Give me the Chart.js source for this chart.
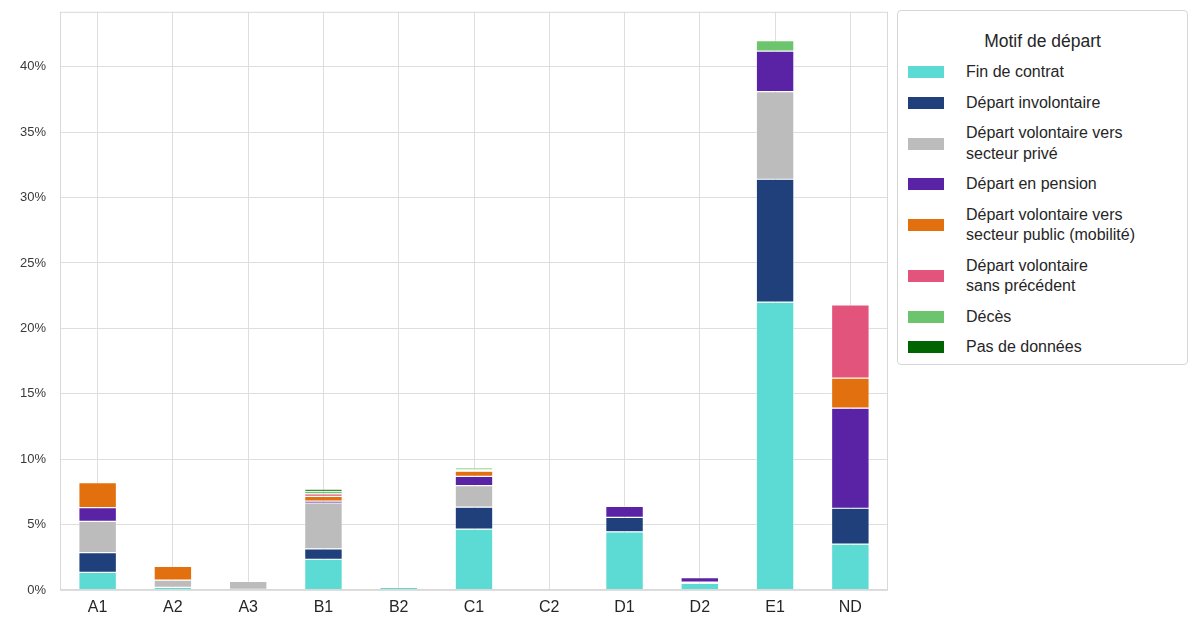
<!DOCTYPE html>
<html>
<head>
<meta charset="utf-8">
<script src="https://cdn.jsdelivr.net/npm/chart.js@4.4.1/dist/chart.umd.min.js"></script>
<style>
  body { margin:0; background:#fff; font-family:"Liberation Sans", Arial, sans-serif; overflow:hidden; }
  #wrap { position:absolute; left:0; top:-10px; width:890px; height:633px; }
  #legend { position:absolute; left:897px; top:10px; width:291px; height:355px; box-sizing:border-box;
            border:1px solid #d6d6d6; border-radius:4px; background:#fff; color:#262626; }
  #legend .title { text-align:center; font-size:17.5px; margin-top:20px; margin-bottom:10px; }
  #legend .item { display:flex; align-items:center; font-size:16px; line-height:20.5px; margin-bottom:10px; }
  #legend .sw { width:36px; height:12px; margin-left:10px; margin-right:22px; flex:none; }
</style>
</head>
<body>
<div id="wrap"><canvas id="c"></canvas></div>
<div id="legend"></div>
<script>
const categories = ['A1','A2','A3','B1','B2','C1','C2','D1','D2','E1','ND'];
const legendTitle = 'Motif de départ';
const seriesNames = [
  ['Fin de contrat'],
  ['Départ involontaire'],
  ['Départ volontaire vers', 'secteur privé'],
  ['Départ en pension'],
  ['Départ volontaire vers', 'secteur public (mobilité)'],
  ['Départ volontaire', 'sans précédent'],
  ['Décès'],
  ['Pas de données']
];
const seriesColors = ['#5cdbd5','#1f407a','#bcbcbc','#5a22a5','#e3700f','#e3547c','#6cc56c','#006400'];

// values in % per category
const finContrat   = [1.35, 0.2, 0.05, 2.35, 0.2, 4.65, 0, 4.45, 0.5, 22.0, 3.5];
const involontaire = [1.5, 0, 0, 0.8, 0, 1.68, 0, 1.1, 0.1, 9.4, 2.75];
const prive        = [2.4, 0.55, 0.6, 3.5, 0, 1.65, 0, 0, 0, 6.7, 0];
const pension      = [1.05, 0, 0, 0.15, 0, 0.7, 0, 0.85, 0.35, 3.1, 7.65];
const publicMob    = [1.9, 1.05, 0, 0.35, 0, 0.4, 0, 0, 0, 0, 2.3];
const sansPrec     = [0, 0, 0, 0.2, 0, 0.1, 0, 0, 0, 0, 5.6];
const deces        = [0, 0, 0, 0.2, 0, 0.15, 0, 0, 0, 0.8, 0];
const pasDonnees   = [0, 0, 0, 0.15, 0, 0, 0, 0, 0, 0, 0];
const seriesValues = [finContrat, involontaire, prive, pension, publicMob, sansPrec, deces, pasDonnees];

const yMax = 44.2;
const yStep = 5;

const datasets = seriesValues.map((vals, i) => ({
  label: seriesNames[i].join(' '),
  data: vals,
  backgroundColor: seriesColors[i],
  borderColor: '#ffffff',
  borderWidth: 0.6,
  borderSkipped: false,
  barPercentage: 0.5,
  categoryPercentage: 1.0
}));

// frame around plot area, like the grey spines
const frame = {
  id: 'frame',
  afterDraw(chart) {
    const a = chart.chartArea, ctx = chart.ctx;
    ctx.save();
    ctx.strokeStyle = '#d9d9d9';
    ctx.lineWidth = 1;
    ctx.strokeRect(a.left + 0.5, a.top + 0.5, a.right - a.left - 1, a.bottom - a.top - 1);
    ctx.restore();
  }
};

new Chart(document.getElementById('c'), {
  type: 'bar',
  data: { labels: categories, datasets: datasets },
  options: {
    responsive: true,
    maintainAspectRatio: false,
    animation: false,
    layout: { padding: { top: 2, right: 2, left: 0, bottom: 0 } },
    plugins: { legend: { display: false }, tooltip: { enabled: false } },
    scales: {
      x: {
        stacked: true,
        offset: true,
        grid: { offset: false, color: '#dedede', lineWidth: 1, drawTicks: false },
        border: { display: false },
        ticks: { color: '#262626', font: { family: 'Liberation Sans', size: 16 }, padding: 8 },
        afterFit(s) { s.height = 33; }
      },
      y: {
        stacked: true,
        min: 0,
        max: yMax,
        grid: { color: '#dedede', lineWidth: 1, drawTicks: false },
        border: { display: false },
        ticks: {
          stepSize: yStep,
          includeBounds: false,
          color: '#3a3a3a',
          font: { family: 'Liberation Sans', size: 13 },
          padding: 14,
          callback: v => v + '%'
        },
        afterFit(s) { s.width = 60; }
      }
    }
  },
  plugins: [frame]
});

// legend with two-line labels
const lg = document.getElementById('legend');
let html = '<div class="title">' + legendTitle + '</div>';
seriesNames.forEach((lines, i) => {
  html += '<div class="item"><span class="sw" style="background:' + seriesColors[i] + '"></span><span>' +
          lines.join('<br>') + '</span></div>';
});
lg.innerHTML = html;
</script>
</body>
</html>
